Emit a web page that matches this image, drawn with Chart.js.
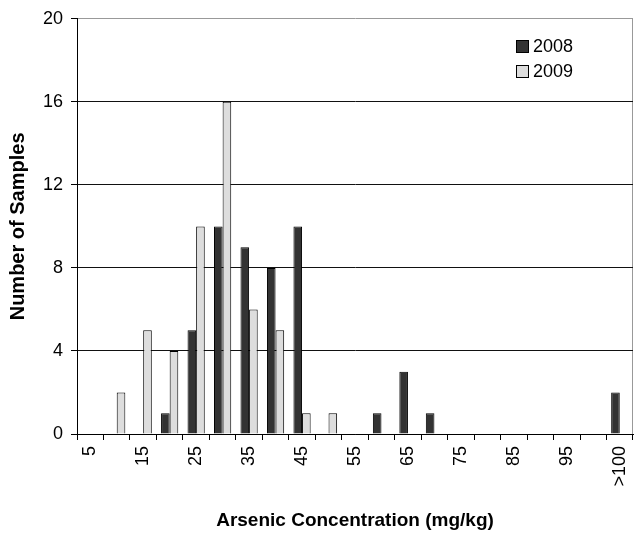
<!DOCTYPE html>
<html><head><meta charset="utf-8">
<script src="https://cdn.jsdelivr.net/npm/chart.js@4"></script>
<style>
html,body{margin:0;padding:0;background:#fff;}
#wrap{position:relative;width:641px;height:534px;}
#legend{position:absolute;left:516px;top:34px;font:18px "Liberation Sans",Arial,sans-serif;color:#000;}
.item{display:flex;align-items:center;height:25px;}
.box{width:11px;height:11px;border:1px solid #000;margin-right:4px;}
</style></head><body>
<div id="wrap"><canvas id="c" width="641" height="534"></canvas>
<div id="legend"></div></div>
<script>
const categories = ['5','10','15','20','25','30','35','40','45','50','55','60','65','70','75','80','85','90','95','100','>100'];
const series2008 = [0,0,0,1,5,10,9,8,10,0,0,1,3,1,0,0,0,0,0,0,2];
const series2009 = [0,2,5,4,10,16,6,5,1,1,0,0,0,0,0,0,0,0,0,0,0];
const seriesNames = ['2008','2009'];
const seriesColors = ['#333333','#dddddd'];
const yMin = 0, yMax = 20, yStep = 4;
const xTitle = 'Arsenic Concentration (mg/kg)';
const yTitle = 'Number of Samples';

const FONT = '"Liberation Sans", Arial, sans-serif';

const legend = document.getElementById('legend');
seriesNames.forEach((n, i) => {
  const it = document.createElement('div'); it.className = 'item';
  const b = document.createElement('div'); b.className = 'box'; b.style.background = seriesColors[i];
  const t = document.createElement('span'); t.textContent = n;
  it.appendChild(b); it.appendChild(t); legend.appendChild(it);
});

new Chart(document.getElementById('c'), {
  type: 'bar',
  data: {
    labels: categories,
    datasets: [
      { label: seriesNames[0], data: series2008, backgroundColor: seriesColors[0], borderColor: '#000', borderWidth: 1 },
      { label: seriesNames[1], data: series2009, backgroundColor: seriesColors[1], borderColor: '#000', borderWidth: 1 }
    ]
  },
  options: {
    responsive: false,
    animation: false,
    datasets: { bar: { barPercentage: 1, categoryPercentage: 0.65 } },
    layout: { padding: { left: 0, top: 15, right: 8, bottom: 0 } },
    plugins: { legend: { display: false }, tooltip: { enabled: false } },
    scales: {
      x: {
        afterFit: s => { s.height = 100; s.paddingLeft = 0; s.paddingRight = 0; },
        border: { color: '#000', width: 1 },
        grid: {
          offset: true,
          drawOnChartArea: true,
          color: ctx => ctx.type === 'tick' ? 'rgba(0,0,0,0)' : '#999999',
          tickColor: '#000',
          tickLength: 6
        },
        ticks: {
          autoSkip: false, minRotation: 90, maxRotation: 90, padding: 6,
          color: '#000', font: { family: FONT, size: 18 },
          callback: function(v, i) { return i % 2 === 0 ? this.getLabelForValue(v) : ''; }
        },
        title: { display: true, text: xTitle, color: '#000', font: { family: FONT, size: 19, weight: 'bold' }, padding: { top: 0, bottom: 2 } }
      },
      y: {
        min: yMin, max: yMax,
        afterFit: s => { s.width = 77; },
        border: { color: '#000', width: 1 },
        grid: {
          color: ctx => (ctx.tick && ctx.tick.value === yMax) ? '#999999' : '#111111',
          tickColor: '#000',
          tickLength: 6
        },
        ticks: { stepSize: yStep, padding: 8, color: '#000', font: { family: FONT, size: 18 } },
        title: { display: true, text: yTitle, color: '#000', font: { family: FONT, size: 20, weight: 'bold' }, padding: { top: 6, bottom: 0 } }
      }
    }
  }
});
</script>
</body></html>
